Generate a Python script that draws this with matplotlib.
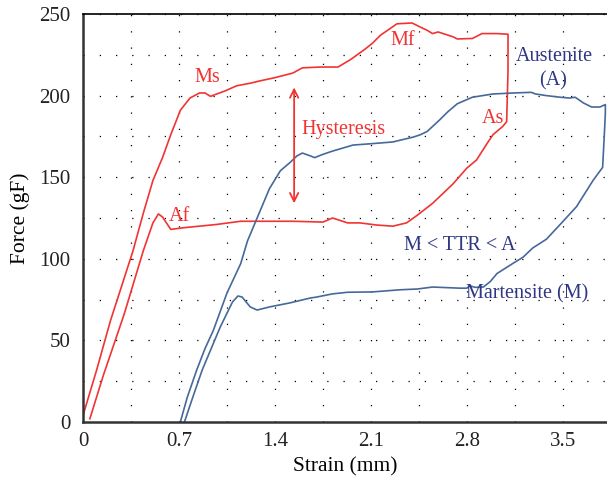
import matplotlib
matplotlib.use("Agg")
import matplotlib.pyplot as plt
from matplotlib.ticker import MultipleLocator

plt.rcParams['font.family'] = ['Liberation Serif', 'DejaVu Serif']

# Red loop (strain mm, force gF)
red_x = [0.0, 0.1, 0.2, 0.3, 0.365, 0.44, 0.51, 0.58, 0.64, 0.71, 0.78, 0.85, 0.89, 0.93, 0.96,
         1.04, 1.12, 1.22, 1.29, 1.40, 1.53, 1.60, 1.73, 1.86, 1.95, 2.05, 2.11, 2.17, 2.29, 2.40,
         2.46, 2.51, 2.55, 2.59, 2.70, 2.73, 2.84, 2.91, 3.02, 3.10, 3.10, 3.09, 3.06, 2.99, 2.95,
         2.87, 2.80, 2.70, 2.55, 2.44, 2.36, 2.26, 2.14, 2.02, 1.93, 1.82, 1.75, 1.53, 1.31, 1.15,
         0.97, 0.73, 0.64, 0.58, 0.55, 0.51, 0.44, 0.30, 0.15, 0.05]
red_y = [4, 32, 62, 88, 105, 128, 148, 162, 176, 191, 198.5, 201.6, 201.6, 199.5, 200.5,
         203, 206, 207.6, 209, 211, 213.8, 217, 217.5, 217.5, 222, 228, 232, 237, 244, 244.5,
         242, 240, 238, 239, 236, 234.7, 235, 238, 238, 237.6, 215, 184, 181, 176, 171,
         160.5, 155.6, 146, 134, 126.8, 122, 120, 120.7, 122, 122, 125, 122.5, 123, 123, 123,
         121, 119, 118, 125.6, 127.5, 122, 105, 66, 29, 2]

# Blue loop
blue_x = [0.71, 0.76, 0.83, 0.89, 0.95, 1.05, 1.15, 1.20, 1.27, 1.36, 1.44, 1.51, 1.56, 1.60,
          1.66, 1.69, 1.75, 1.82, 1.97, 2.10, 2.26, 2.41, 2.46, 2.51, 2.60, 2.66, 2.73, 2.84,
          2.99, 3.14, 3.27, 3.30, 3.38, 3.48, 3.55, 3.59, 3.65, 3.71, 3.77, 3.81, 3.81, 3.80,
          3.79, 3.72, 3.60, 3.48, 3.38, 3.28, 3.21, 3.14, 3.02, 2.97, 2.92, 2.86, 2.82, 2.80,
          2.75, 2.55, 2.44, 2.31, 2.11, 1.93, 1.82, 1.70, 1.66, 1.51, 1.36, 1.27, 1.22, 1.16,
          1.13, 1.09, 1.00, 0.87, 0.80, 0.74]
blue_y = [0, 15, 32, 45, 56, 79, 97, 111, 125, 143, 154, 159, 163, 164.8,
          163, 162, 164, 166, 169.7, 170.5, 171.6, 174.6, 176, 178, 185, 190, 195, 199,
          201, 201.6, 202, 201, 200, 199, 198.5, 199, 195.5, 193, 193, 194.5, 189, 172,
          156, 148, 132, 121, 112, 106.6, 101, 97.4, 91, 86, 82.7, 82.5, 83.5, 82,
          82, 82.7, 81.5, 81, 79.7, 79.5, 78.5, 76.5, 76, 73, 70.5, 68.6, 70.5, 76.6,
          77.2, 73.5, 58, 32, 15, 0]

x_ticks = [0, 0.7, 1.4, 2.1, 2.8, 3.5]
x_tick_labels = ["0", "0.7", "1.4", "2.1", "2.8", "3.5"]
y_ticks = [0, 50, 100, 150, 200, 250]

RED = '#f23333'
BLUE = '#46699a'
NAVY = '#2f3784'

fig = plt.figure(figsize=(6.07, 4.82), dpi=100)
ax = fig.add_axes([83/607, 60/482, 524/607, 408/482])

ax.plot(red_x, red_y, color=RED, lw=1.2)
ax.plot(blue_x, blue_y, color=BLUE, lw=1.2)

ax.set_xlim(0, 3.822)
ax.set_ylim(0, 250)
ax.set_xticks(x_ticks)
ax.set_xticklabels(x_tick_labels)
ax.set_yticks(y_ticks)
ax.xaxis.set_minor_locator(MultipleLocator(0.35))
ax.yaxis.set_minor_locator(MultipleLocator(25))
ax.tick_params(which='both', length=0, labelsize=15, colors='#222222')
ax.tick_params(axis='x', pad=7)
ax.tick_params(axis='y', pad=9)
ax.grid(which='both', color='black', lw=0.9, linestyle=(0, (1, 12)))

for s in ['left', 'bottom']:
    ax.spines[s].set_color('#333333')
    ax.spines[s].set_linewidth(1.8)
ax.spines['top'].set_color('black')
ax.spines['top'].set_linewidth(1.2)
ax.spines['right'].set_visible(False)

ax.set_xlabel("Strain (mm)", fontsize=15.5, labelpad=5)
ax.set_ylabel("Force (gF)", fontsize=15.5, labelpad=7)

ax.annotate('', xy=(1.54, 205), xytext=(1.54, 134),
            arrowprops=dict(arrowstyle='<->,head_length=0.6,head_width=0.3', color=RED, lw=1.3,
                            shrinkA=0, shrinkB=0))

fs = 14.5
ax.text(0.908, 210.8, "Ms", color=RED, fontsize=fs, ha='center', va='center')
ax.text(0.70, 126, "Af", color=RED, fontsize=fs, ha='center', va='center')
ax.text(2.33, 234, "Mf", color=RED, fontsize=fs, ha='center', va='center')
ax.text(2.99, 186, "As", color=RED, fontsize=fs, ha='center', va='center')
ax.text(1.90, 179, "Hysteresis", color=RED, fontsize=fs, ha='center', va='center')
ax.text(3.435, 224, "Austenite", color=NAVY, fontsize=fs, ha='center', va='center')
ax.text(3.43, 209, "(A)", color=NAVY, fontsize=fs, ha='center', va='center')
ax.text(2.75, 108, "M < TTR < A", color=NAVY, fontsize=fs, ha='center', va='center')
ax.text(3.24, 78.5, "Martensite (M)", color=NAVY, fontsize=fs, ha='center', va='center')

fig.savefig("out.png", dpi=100)
